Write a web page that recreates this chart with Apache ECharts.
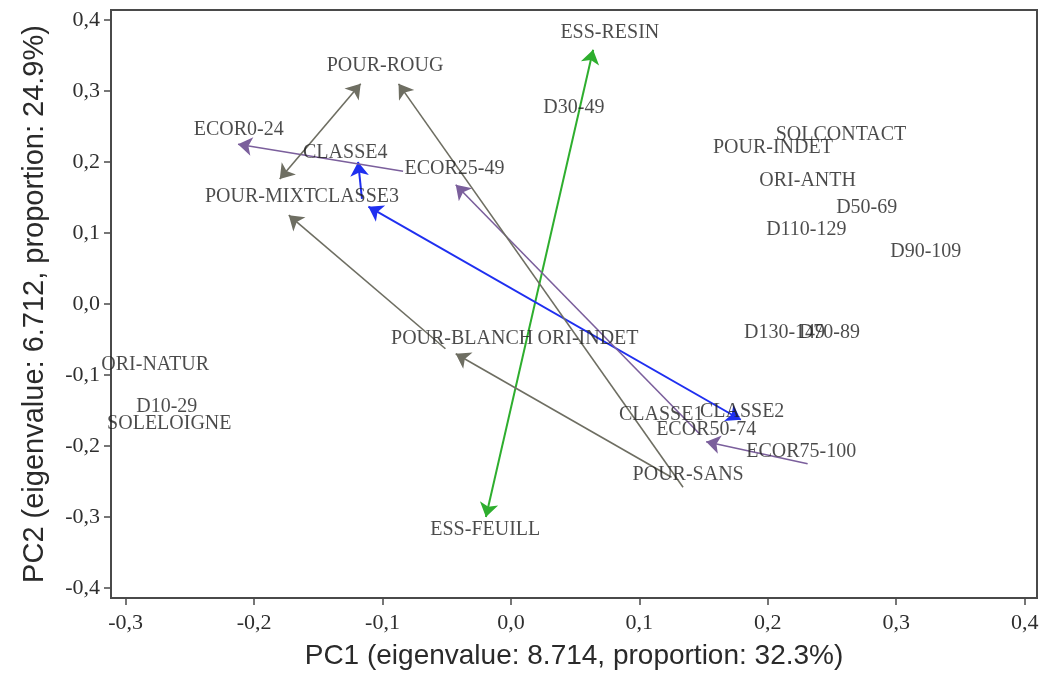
<!DOCTYPE html>
<html>
<head>
<meta charset="utf-8">
<script src="https://cdn.jsdelivr.net/npm/echarts@6/dist/echarts.min.js"></script>
<style>
  html, body { margin: 0; padding: 0; background: #ffffff; }
  #chart { width: 1048px; height: 675px; }
</style>
</head>
<body>
<div id="chart"></div>
<script>
// ---- Axis ticks ----
const xTicks = [-0.3, -0.2, -0.1, 0.0, 0.1, 0.2, 0.3, 0.4];
const yTicks = [-0.4, -0.3, -0.2, -0.1, 0.0, 0.1, 0.2, 0.3, 0.4];
const xTitle = 'PC1 (eigenvalue: 8.714, proportion: 32.3%)';
const yTitle = 'PC2 (eigenvalue: 6.712, proportion: 24.9%)';

// ---- Category labels (PC1, PC2 scores) ----
const labelNames = ['ESS-RESIN', 'POUR-ROUG', 'D30-49', 'ECOR0-24', 'CLASSE4', 'ECOR25-49',
  'POUR-MIXT', 'CLASSE3', 'SOLCONTACT', 'POUR-INDET', 'ORI-ANTH', 'D50-69', 'D110-129',
  'D90-109', 'POUR-BLANCH', 'ORI-INDET', 'D130-149', 'D70-89', 'ORI-NATUR', 'D10-29',
  'SOLELOIGNE', 'CLASSE1', 'CLASSE2', 'ECOR50-74', 'ECOR75-100', 'POUR-SANS', 'ESS-FEUILL'];
const labelPC1 = [0.077, -0.098, 0.049, -0.212, -0.129, -0.044,
  -0.195, -0.120, 0.257, 0.204, 0.231, 0.277, 0.230,
  0.323, -0.038, 0.060, 0.213, 0.248, -0.277, -0.268,
  -0.266, 0.117, 0.180, 0.152, 0.226, 0.138, -0.020];
const labelPC2 = [0.382, 0.335, 0.276, 0.245, 0.213, 0.190,
  0.151, 0.151, 0.238, 0.220, 0.173, 0.135, 0.104,
  0.073, -0.049, -0.049, -0.041, -0.041, -0.086, -0.145,
  -0.168, -0.156, -0.152, -0.177, -0.208, -0.241, -0.318];

// ---- Arrows (from -> to), grouped by variable ----
const arrowGroup  = ['ESS', 'CLASSE', 'CLASSE', 'ECOR', 'ECOR', 'ECOR', 'POUR', 'POUR', 'POUR', 'POUR'];
const arrowBoth   = [true, true, false, false, false, false, false, false, false, true];
const arrowFromX  = [-0.0195, 0.179, -0.116, 0.231, 0.147, -0.084, 0.134, 0.125, -0.051, -0.180];
const arrowFromY  = [-0.300, -0.163, 0.148, -0.225, -0.183, 0.187, -0.258, -0.244, -0.063, 0.176];
const arrowToX    = [0.064, -0.111, -0.119, 0.152, -0.043, -0.2125, -0.0875, -0.043, -0.173, -0.117];
const arrowToY    = [0.358, 0.137, 0.200, -0.194, 0.168, 0.225, 0.310, -0.070, 0.125, 0.310];

const groupColor = { ESS: '#2eae2e', CLASSE: '#1f2ff0', ECOR: '#7b5f9c', POUR: '#6e6e62' };
const groupWidth = { ESS: 2, CLASSE: 2, ECOR: 1.6, POUR: 1.6 };

const fmt = v => v.toFixed(1).replace('.', ',');

const series = [];
arrowGroup.forEach((g, i) => {
  series.push({
    type: 'lines',
    coordinateSystem: 'cartesian2d',
    silent: true,
    z: 3,
    symbol: arrowBoth[i] ? ['arrow', 'arrow'] : ['none', 'arrow'],
    symbolSize: 14,
    lineStyle: { color: groupColor[g], width: groupWidth[g], opacity: 1, curveness: 0 },
    data: [{ coords: [[arrowFromX[i], arrowFromY[i]], [arrowToX[i], arrowToY[i]]] }]
  });
});

series.push({
  type: 'scatter',
  silent: true,
  z: 5,
  symbol: 'circle',
  symbolSize: 1,
  itemStyle: { color: 'rgba(255,255,255,0)' },
  label: {
    show: true,
    position: 'inside',
    formatter: p => p.name,
    fontFamily: 'Liberation Serif',
    fontSize: 20,
    color: '#1e1e1e'
  },
  labelLayout: { hideOverlap: false },
  data: labelNames.map((n, i) => ({ name: n, value: [labelPC1[i], labelPC2[i]] }))
});

const chart = echarts.init(document.getElementById('chart'), null, { renderer: 'canvas' });
chart.setOption({
  animation: false,
  backgroundColor: '#ffffff',
  grid: {
    left: 111, top: 10, right: 11, bottom: 76,
    show: true, borderColor: '#4a4a4a', borderWidth: 2, backgroundColor: 'transparent'
  },
  xAxis: {
    type: 'value',
    min: -0.3114, max: 0.4096,
    name: xTitle,
    nameLocation: 'middle',
    nameGap: 44,
    nameTextStyle: { fontFamily: 'Liberation Sans', fontSize: 28, color: '#2a2a2a' },
    splitLine: { show: false },
    axisLine: { show: true, onZero: false, lineStyle: { color: '#4a4a4a', width: 2 } },
    axisTick: { show: true, length: 7, customValues: xTicks, lineStyle: { color: '#4a4a4a', width: 1.5 } },
    axisLabel: {
      customValues: xTicks, formatter: fmt, margin: 14,
      fontFamily: 'Liberation Serif', fontSize: 22, color: '#2e2e2e'
    }
  },
  yAxis: {
    type: 'value',
    min: -0.414, max: 0.414,
    name: yTitle,
    nameLocation: 'middle',
    nameGap: 62,
    nameTextStyle: { fontFamily: 'Liberation Sans', fontSize: 29, color: '#2a2a2a' },
    splitLine: { show: false },
    axisLine: { show: true, onZero: false, lineStyle: { color: '#4a4a4a', width: 2 } },
    axisTick: { show: true, length: 7, customValues: yTicks, lineStyle: { color: '#4a4a4a', width: 1.5 } },
    axisLabel: {
      customValues: yTicks, formatter: fmt, margin: 11,
      fontFamily: 'Liberation Serif', fontSize: 22, color: '#2e2e2e'
    }
  },
  series: series
});
</script>
</body>
</html>
